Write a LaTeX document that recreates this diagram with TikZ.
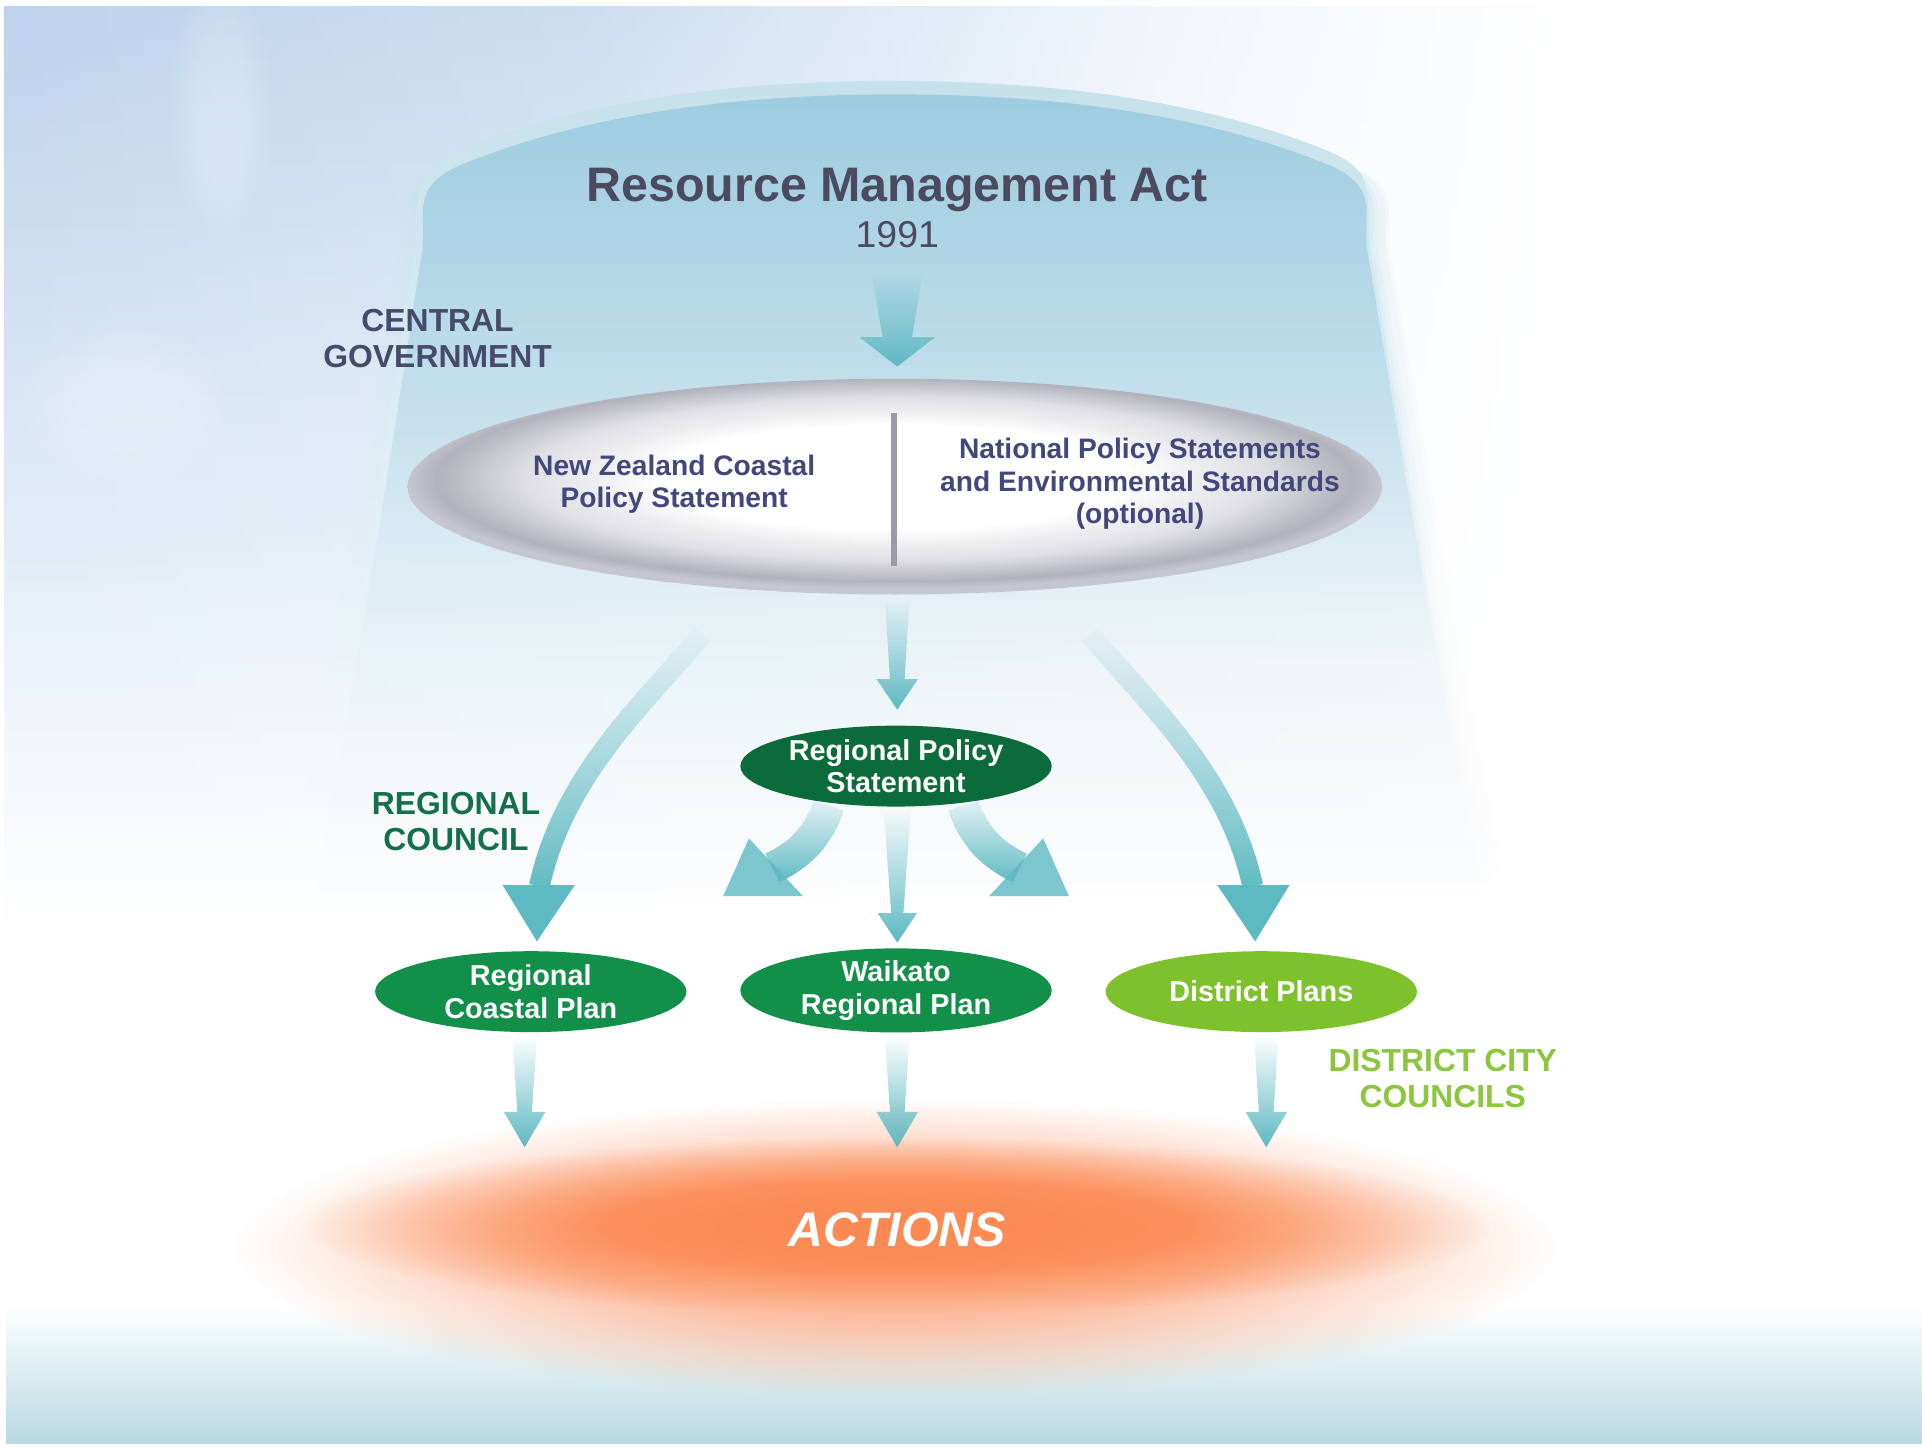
\documentclass[tikz,border=0pt]{standalone}
\usepackage{fontspec}
\setmainfont{Liberation Sans}
\usetikzlibrary{fadings,calc,shapes.geometric}

\definecolor{skyA}{HTML}{BCD3EC}
\definecolor{bandB}{HTML}{B6DAE1}
\definecolor{bellTop}{HTML}{9ECCE0}
\definecolor{bellBot}{HTML}{C4E2EC}
\definecolor{bellRim}{HTML}{C6E1EB}
\definecolor{titleC}{HTML}{4B4A5F}
\definecolor{govC}{HTML}{464B6B}
\definecolor{navyT}{HTML}{44477A}
\definecolor{arrowC}{HTML}{5DB9C2}
\definecolor{silA}{HTML}{DEDEE4}
\definecolor{silB}{HTML}{B2B2BC}
\definecolor{silC}{HTML}{C6C6CF}
\definecolor{divC}{HTML}{9A9BA6}
\definecolor{rpsC}{HTML}{0C6B3B}
\definecolor{planC}{HTML}{12904A}
\definecolor{distC}{HTML}{7DC22D}
\definecolor{regC}{HTML}{14704A}
\definecolor{dccC}{HTML}{8CC63F}
\definecolor{orangeA}{HTML}{FC8850}
\definecolor{orangeB}{HTML}{FDB493}

\tikzfading[name=arrowfade, top color=transparent!100, middle color=transparent!45, bottom color=transparent!0]
\pgfdeclareverticalshading{bellsh}{100bp}{color(0bp)=(black); color(27bp)=(black); color(32bp)=(white!3!black); color(37bp)=(white!10!black); color(44bp)=(white!30!black); color(53bp)=(white!80!black); color(62bp)=(white); color(100bp)=(white)}
\pgfdeclarefading{bellfade}{\pgfuseshading{bellsh}}
\pgfdeclarehorizontalshading{skysh}{100bp}{color(0bp)=(white); color(25bp)=(white); color(40bp)=(white!75!black); color(55bp)=(white!20!black); color(66bp)=(black); color(100bp)=(black)}
\pgfdeclarefading{skyfade}{\pgfuseshading{skysh}}
\pgfdeclareradialshading{blobsh}{\pgfpointorigin}{color(0bp)=(white); color(12bp)=(white!85!black); color(25bp)=(black); color(50bp)=(black)}
\pgfdeclarefading{blobfade}{\pgfuseshading{blobsh}}
\pgfdeclareradialshading{silversh}{\pgfpoint{0bp}{3bp}}{color(0bp)=(white); color(12bp)=(white); color(19bp)=(silA); color(23.5bp)=(silB); color(25bp)=(silC); color(50bp)=(silC)}

\newcommand\vArrow[6]{%
  \fill[arrowfill] let \p1=(#1), \p2=(#2) in
    (\x1-#3,\y1) -- (\x1+#3,\y1) -- (\x1+#4,\y2+#6) -- (\x1+#5,\y2+#6) --
    (\x1,\y2) -- (\x1-#5,\y2+#6) -- (\x1-#4,\y2+#6) -- cycle;}

\tikzset{
  lbl/.style={font=\fontsize{26}{29}\selectfont\bfseries, align=center, inner sep=0},
  eltxt/.style={font=\fontsize{23}{26.5}\selectfont\bfseries, align=center, text=navyT, inner sep=0},
  gnode/.style={ellipse, minimum width=254, minimum height=66, inner sep=0, align=center,
    text=white, font=\fontsize{23.5}{26.5}\selectfont\bfseries},
  arrowfill/.style={fill=arrowC, path fading=arrowfade},
  shaft/.style={draw=arrowC, path fading=arrowfade},
  head/.style={fill=arrowC},
  bellshape/.style={insert path={(345,200) -- (345,172) .. controls (345,150) and (360,140) .. (380,132)
     .. controls (480,92) and (600,76) .. (730,76) .. controls (860,76) and (980,92) .. (1080,132)
     .. controls (1100,140) and (1115,150) .. (1115,172) -- (1115,200)
     .. controls (1140,350) and (1175,560) .. (1215,760) -- (250,760)
     .. controls (290,560) and (322,350) .. (345,200) -- cycle}},
}

\begin{document}
\begin{tikzpicture}[x=1pt,y=-1pt]
\useasboundingbox (0,0) rectangle (1568,1180);
% background
\fill[white] (0,0) rectangle (1568,1180);
\shade[top color=skyA, middle color=skyA!35, bottom color=white, path fading=skyfade] (5,5) rectangle (1568,760);
\fill[white, opacity=0.25, path fading=blobfade] (180,90) ellipse [x radius=45, y radius=110];
\fill[white, opacity=0.25, path fading=blobfade] (100,330) ellipse [x radius=90, y radius=70];
\shade[top color=white, bottom color=bandB] (5,1065) rectangle (1568,1178);

% bell shape
\foreach \s/\o in {1.05/0.12, 1.04/0.18, 1.03/0.25, 1.02/0.32, 1.01/0.4} {
  \begin{scope}[shift={(730,0)}, xscale=\s, shift={(-730,0)}]
    \shade[top color=bellRim, middle color=bellRim, bottom color=white, opacity=\o, path fading=bellfade, bellshape];
  \end{scope}
}
\begin{scope}[shift={(730,-11)}, xscale=1.008, shift={(-730,0)}]
  \shade[top color=bellRim, middle color=bellRim, bottom color=white, path fading=bellfade, bellshape];
\end{scope}
\shade[top color=bellTop, middle color=bellBot, bottom color=white, path fading=bellfade, bellshape];

% title
\node[font=\fontsize{39.5}{44}\selectfont\bfseries, text=titleC, inner sep=0, anchor=base] (rma) at (732,164) {Resource Management Act};
\node[font=\fontsize{30.5}{34}\selectfont, text=titleC, inner sep=0, anchor=base] (year) at (732,202) {1991};

\coordinate (a1s) at (732,222);
\coordinate (a1e) at (732,299);
\vArrow{a1s}{a1e}{21pt}{12pt}{31pt}{24pt}

\node[lbl, text=govC] (gov) at (357,276) {CENTRAL\\GOVERNMENT};

% silver ellipse
\node[ellipse, shade, shading=silversh, minimum width=795, minimum height=176, inner sep=0] (silver) at (730,397) {};
\coordinate (dvt) at (729,337);
\coordinate (dvb) at (729,462);
\draw[divC, line width=5] (dvt) -- (dvb);
\node[eltxt] (nzcps) at (550,395) {New Zealand Coastal\\Policy Statement};
\node[eltxt] (nps) at (930,395) {National Policy Statements\\and Environmental Standards\\(optional)};

\coordinate (a2s) at (732,488);
\coordinate (a2e) at (732,579);
\vArrow{a2s}{a2e}{10pt}{6pt}{17pt}{25pt}

% big curved arrows
\coordinate (lbs) at (573,517);
\coordinate (lbe) at (440,723);
\coordinate (lhl) at (410,722);
\coordinate (lhr) at (469,722);
\coordinate (lht) at (438,768);
\draw[shaft, line width=17] (lbs) .. controls (530,570) and (460,630) .. (lbe);
\fill[head] (lhl) -- (lhr) -- (lht) -- cycle;

\coordinate (rbs) at (889,517);
\coordinate (rbe) at (1022,723);
\coordinate (rhl) at (993,722);
\coordinate (rhr) at (1052,722);
\coordinate (rht) at (1024,768);
\draw[shaft, line width=17] (rbs) .. controls (932,570) and (1002,630) .. (rbe);
\fill[head] (rhl) -- (rhr) -- (rht) -- cycle;

\node[lbl, text=regC] (rc) at (372,670) {REGIONAL\\COUNCIL};

% regional policy statement
\node[gnode, fill=rpsC] (rps) at (731,625) {Regional Policy\\Statement};

\coordinate (dls) at (676,657);
\coordinate (dle) at (630,708);
\coordinate (dlh1) at (611,684);
\coordinate (dlh2) at (655,731);
\coordinate (dlt) at (590,731);
\draw[shaft, line width=26] (dls) .. controls (668,682) and (652,698) .. (dle);
\fill[head, opacity=0.8] (dlh1) -- (dlh2) -- (dlt) -- cycle;

\coordinate (drs) at (786,657);
\coordinate (dre) at (832,708);
\coordinate (drh1) at (851,684);
\coordinate (drh2) at (807,731);
\coordinate (drt) at (872,731);
\draw[shaft, line width=26] (drs) .. controls (794,682) and (810,698) .. (dre);
\fill[head, opacity=0.8] (drh1) -- (drh2) -- (drt) -- cycle;

\coordinate (a3s) at (732,660);
\coordinate (a3e) at (732,769);
\vArrow{a3s}{a3e}{11pt}{5pt}{16pt}{24pt}

% plans
\node[gnode, fill=planC] (rcp) at (433,809) {Regional\\Coastal Plan};
\node[gnode, fill=planC] (wrp) at (731,808) {Waikato\\Regional Plan};
\node[gnode, fill=distC] (dp) at (1029,809) {District Plans};

\node[lbl, text=dccC] (dcc) at (1177,880) {DISTRICT CITY\\COUNCILS};

% actions blob
\fill[orangeB, path fading=blobfade] (732,1018) ellipse [x radius=540, y radius=122];
\fill[orangeA, path fading=blobfade] (732,1000) ellipse [x radius=485, y radius=72];

\coordinate (l1s) at (428,845);
\coordinate (l1e) at (428,936);
\coordinate (l2s) at (732,845);
\coordinate (l2e) at (732,936);
\coordinate (l3s) at (1033,845);
\coordinate (l3e) at (1033,936);
\vArrow{l1s}{l1e}{10pt}{6pt}{17pt}{29pt}
\vArrow{l2s}{l2e}{10pt}{6pt}{17pt}{29pt}
\vArrow{l3s}{l3e}{10pt}{6pt}{17pt}{29pt}

\node[font=\fontsize{39.5}{44}\selectfont\bfseries\itshape, text=white, inner sep=0] (act) at (732,1003) {ACTIONS};
\end{tikzpicture}
\end{document}
